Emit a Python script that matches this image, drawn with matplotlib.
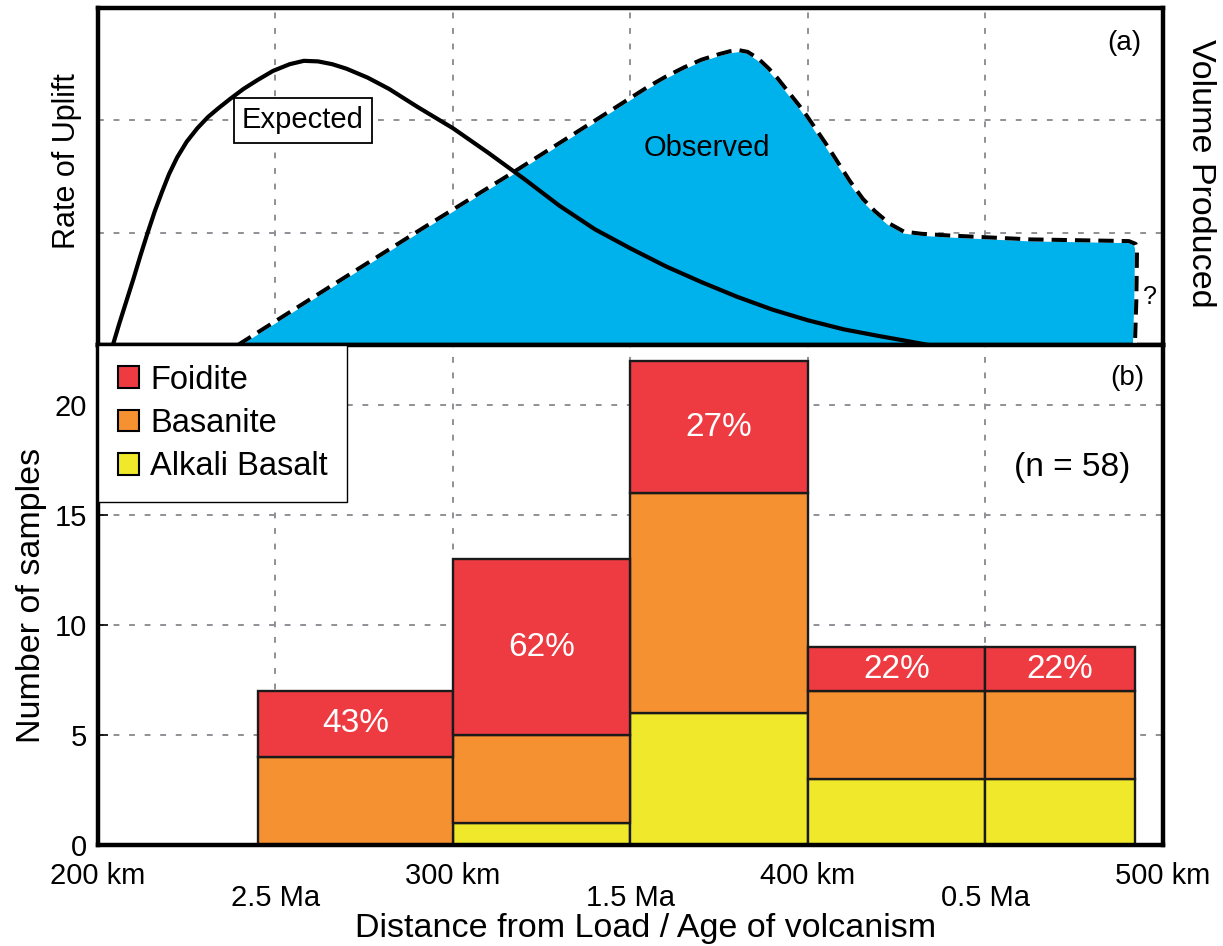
import matplotlib.pyplot as plt
from matplotlib.patches import Patch

plt.rcParams['font.family'] = ['Liberation Sans', 'DejaVu Sans']

# ---- panel (a): curves (distance in km, arbitrary units)
expected_x = [204.2, 206, 208, 210, 212, 214, 216, 218, 220, 222.3,
              225, 228, 231, 234, 237.2, 241, 245, 249.3, 254, 258,
              262, 266, 270, 276, 282, 290, 300, 310, 320, 330,
              340, 350, 360, 370, 380, 390, 400, 410, 420, 428, 434]
expected_y = [0.0, 0.19, 0.39, 0.59, 0.80, 1.00, 1.19, 1.36, 1.52, 1.67,
              1.81, 1.93, 2.03, 2.11, 2.19, 2.28, 2.36, 2.44, 2.50, 2.53,
              2.525, 2.50, 2.46, 2.38, 2.28, 2.12, 1.93, 1.71, 1.48, 1.24,
              1.03, 0.86, 0.70, 0.56, 0.43, 0.315, 0.22, 0.14, 0.08, 0.035, 0.0]

observed_x = [239.4, 263.4, 291.5, 316.6, 338.6, 355.0, 360.0, 365.0, 370.0, 375.0,
              378.0, 380.5, 383.0, 386.0, 389.0, 391.3, 398.6, 405.1, 411.8, 415.5,
              418.9, 423.0, 427.0, 432.0, 439.7, 462.8, 490.4, 492.3, 492.7, 492.5,
              492.1]
observed_y = [0.0, 0.48, 1.04, 1.53, 1.97, 2.30, 2.39, 2.47, 2.54, 2.59,
              2.615, 2.625, 2.61, 2.55, 2.46, 2.38, 2.09, 1.79, 1.46, 1.30,
              1.19, 1.08, 1.01, 0.99, 0.975, 0.94, 0.925, 0.90, 0.86, 0.40,
              0.0]

# ---- panel (b): stacked histogram of samples
bin_edges = [245, 300, 350, 400, 450, 492]
alkali_basalt = [0, 1, 6, 3, 3]
basanite = [4, 4, 10, 4, 4]
foidite = [3, 8, 6, 2, 2]
foidite_pct = ['43%', '62%', '27%', '22%', '22%']

km_ticks = [200, 300, 400, 500]
km_labels = ['200 km', '300 km', '400 km', '500 km']
age_ticks = [250, 350, 450]
age_labels = ['2.5 Ma', '1.5 Ma', '0.5 Ma']

blue = '#00B2EC'
red = '#EE3B42'
orange = '#F69131'
yellow = '#EFE82B'
grid_gray = '#8E9197'
grid_style = dict(color=grid_gray, linestyle=(0, (3, 5)), linewidth=1.4)

fig = plt.figure(figsize=(12.23, 9.46), dpi=100)
ax_top = fig.add_axes([0.0801, 0.6353, 0.8708, 0.3562])
ax_bot = fig.add_axes([0.0801, 0.1068, 0.8708, 0.5285])

for ax in (ax_top, ax_bot):
    ax.set_xlim(200, 500)
    ax.set_xticks(km_ticks)
    ax.set_xticks(age_ticks, minor=True)
    ax.set_axisbelow(True)
    ax.grid(True, which='both', axis='x', **grid_style)
    ax.grid(True, which='major', axis='y', **grid_style)
    for s in ax.spines.values():
        s.set_linewidth(3.2)

# ---------------- top panel
ax_top.set_ylim(0, 3)
ax_top.set_yticks([1, 2])
ax_top.tick_params(axis='both', which='both', length=0, labelleft=False, labelbottom=False)

ax_top.fill_between(observed_x, observed_y, 0, color=blue, lw=0, zorder=2)
ax_top.plot(observed_x, observed_y, color='white', lw=2.9, zorder=3, solid_joinstyle='round')
ax_top.plot(observed_x, observed_y, color='black', lw=2.9, dashes=(3.8, 2.0), zorder=4)
ax_top.plot(expected_x, expected_y, color='black', lw=3.0, zorder=5, solid_joinstyle='round')

ax_top.text(257.7, 2.0, 'Expected', fontsize=21, ha='center', va='center', zorder=6,
            bbox=dict(boxstyle='square,pad=0.28', facecolor='white', edgecolor='black', lw=1.3))
ax_top.text(371.5, 1.75, 'Observed', fontsize=21, ha='center', va='center', zorder=6)
ax_top.text(496.3, 0.43, '?', fontsize=18, ha='center', va='center')
ax_top.text(0.964, 0.896, '(a)', fontsize=20, ha='center', va='center', transform=ax_top.transAxes)
ax_top.text(-0.029, 0.545, 'Rate of Uplift', fontsize=22, rotation=90, ha='center', va='center',
            transform=ax_top.transAxes)
ax_top.text(1.035, 0.51, 'Volume Produced', fontsize=24.5, rotation=270, ha='center', va='center',
            transform=ax_top.transAxes)

# ---------------- bottom panel
lefts = bin_edges[:-1]
widths = [bin_edges[i + 1] - bin_edges[i] for i in range(len(lefts))]
bas_bottom = alkali_basalt
foid_bottom = [a + b for a, b in zip(alkali_basalt, basanite)]

bar_kw = dict(align='edge', edgecolor='#1a1a1a', linewidth=1.7, zorder=2)
ax_bot.bar(lefts, alkali_basalt, widths, color=yellow, **bar_kw)
ax_bot.bar(lefts, basanite, widths, bottom=bas_bottom, color=orange, **bar_kw)
ax_bot.bar(lefts, foidite, widths, bottom=foid_bottom, color=red, **bar_kw)

for i in range(len(lefts)):
    xc = lefts[i] + widths[i] / 2
    yc = foid_bottom[i] + foidite[i] / 2
    ax_bot.text(xc, yc, foidite_pct[i], color='white', fontsize=24, ha='center', va='center', zorder=3)

ax_bot.set_ylim(0, 22.73)
ax_bot.set_yticks([0, 5, 10, 15, 20])
ax_bot.set_xticklabels(km_labels)
ax_bot.set_xticklabels(age_labels, minor=True)
ax_bot.tick_params(axis='y', direction='in', length=7, width=1.2, labelsize=21, pad=8)
ax_bot.tick_params(axis='x', which='major', length=0, labelsize=21, pad=12)
ax_bot.tick_params(axis='x', which='minor', length=0, labelsize=21, pad=28)

ax_bot.text(0.967, 0.934, '(b)', fontsize=20, ha='center', va='center', transform=ax_bot.transAxes)
ax_bot.text(0.915, 0.754, '(n = 58)', fontsize=24, ha='center', va='center', transform=ax_bot.transAxes)
ax_bot.text(-0.062, 0.5, 'Number of samples', fontsize=24.5, rotation=90, ha='center', va='center',
            transform=ax_bot.transAxes)
ax_bot.text(0.514, -0.168, 'Distance from Load / Age of volcanism', fontsize=24.5, ha='center',
            va='center', transform=ax_bot.transAxes)

handles = [Patch(facecolor=red, edgecolor='black', lw=1.5, label='Foidite'),
           Patch(facecolor=orange, edgecolor='black', lw=1.5, label='Basanite'),
           Patch(facecolor=yellow, edgecolor='black', lw=1.5, label='Alkali Basalt')]
leg = ax_bot.legend(handles=handles, loc='upper left', bbox_to_anchor=(0, 1), borderaxespad=0,
                    fancybox=False, edgecolor='black', framealpha=1, fontsize=23.5,
                    handlelength=0.65, handleheight=0.65, handletextpad=0.35,
                    labelspacing=0.38, borderpad=0.6)
leg.get_frame().set_linewidth(1.0)
leg.set_zorder(10)

plt.savefig('out.png', dpi=100)
